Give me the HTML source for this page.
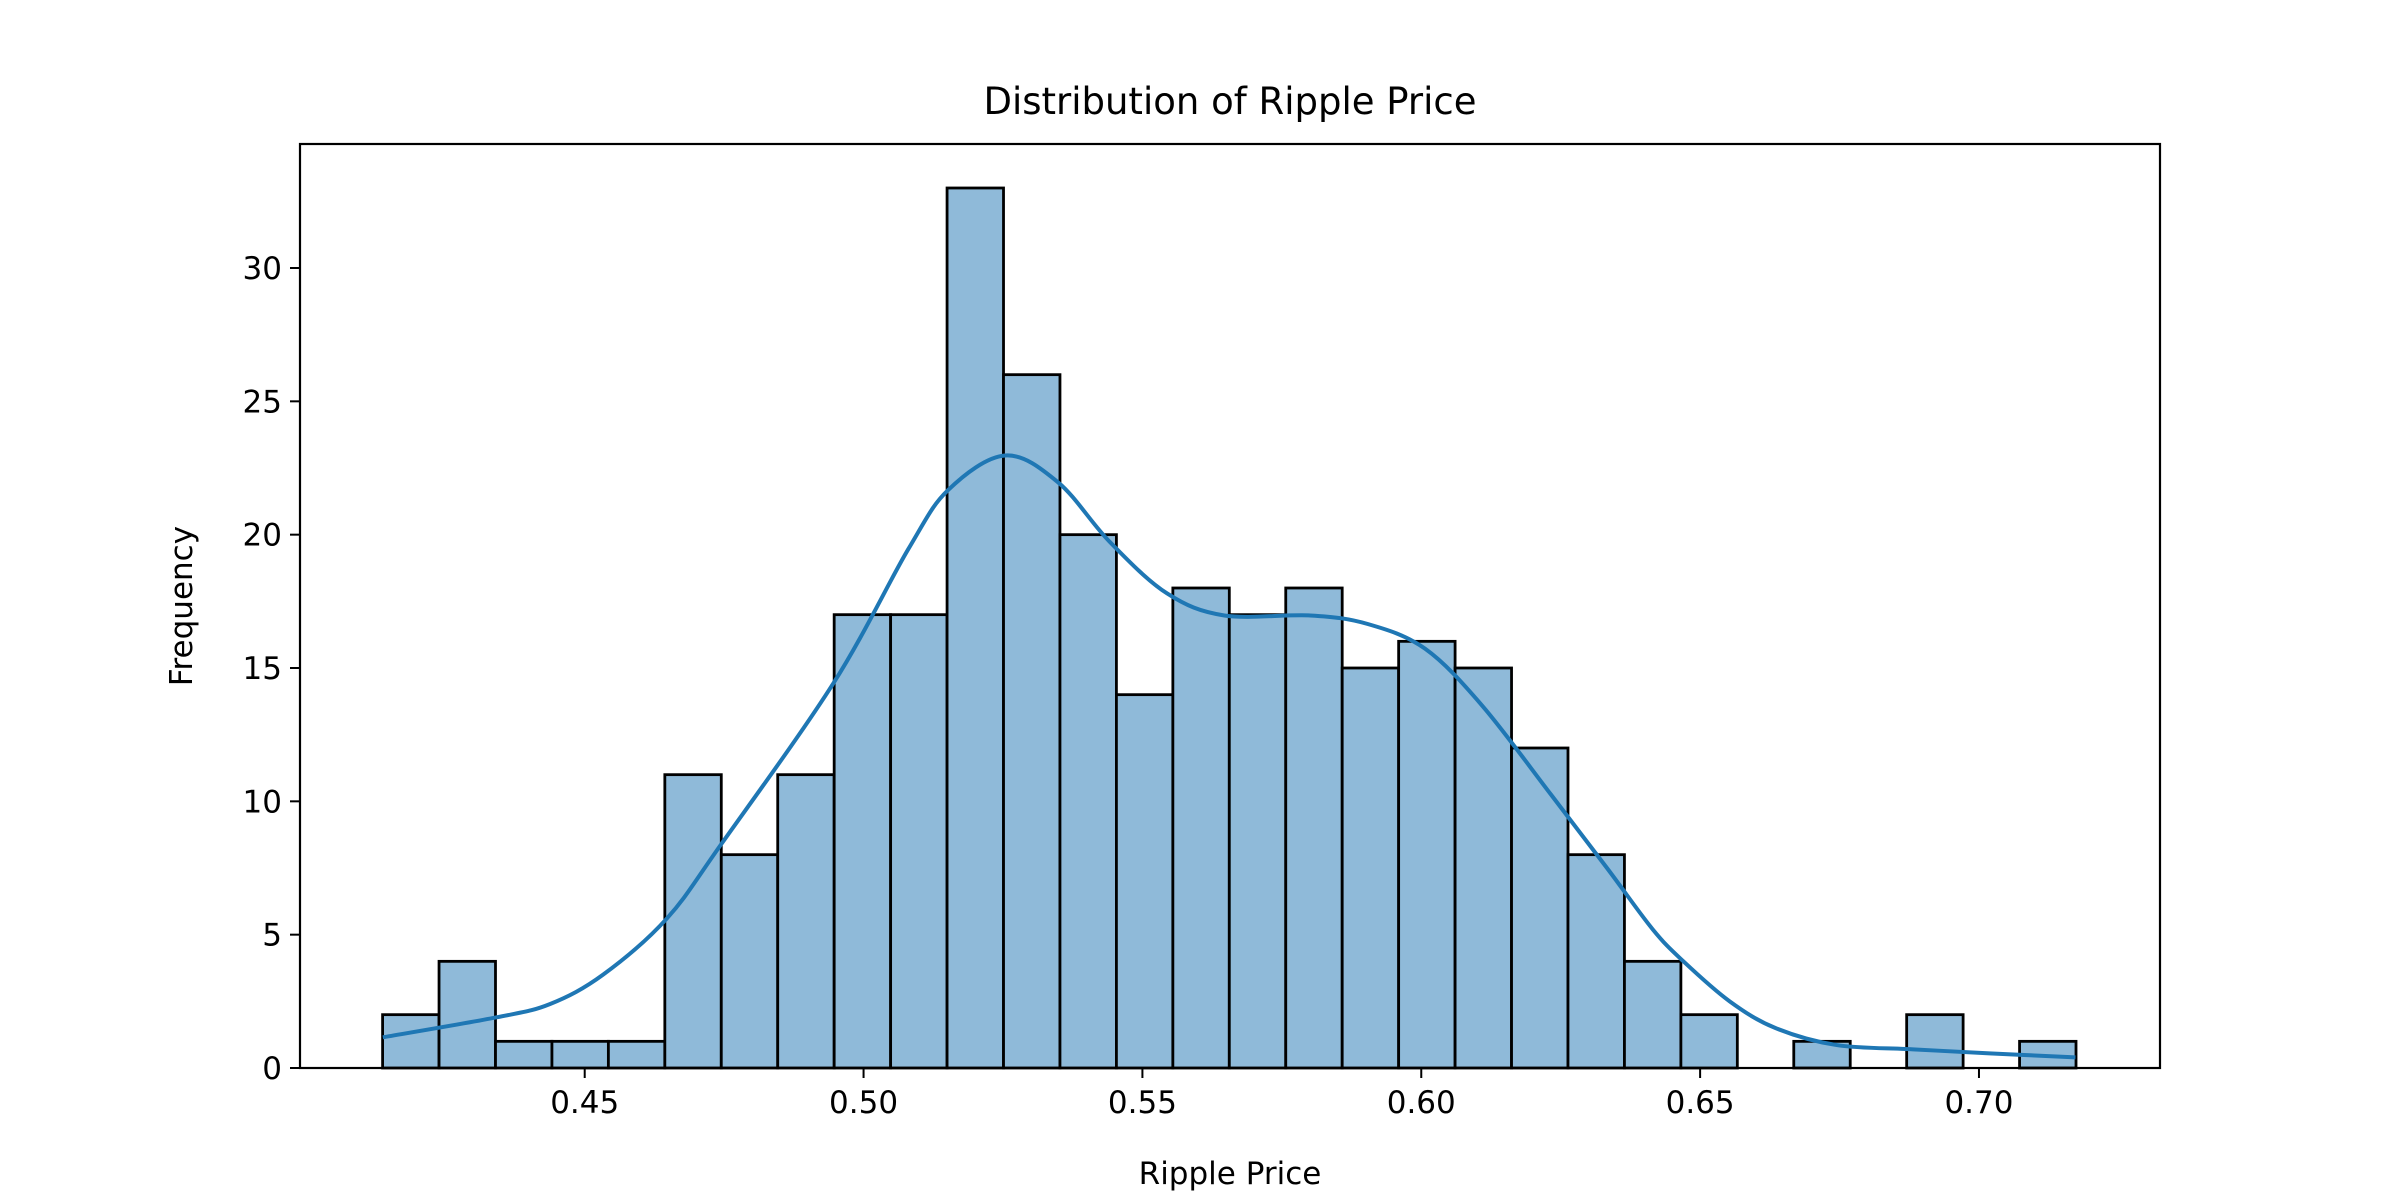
<!DOCTYPE html>
<html><head><meta charset="utf-8"><style>
html,body{margin:0;padding:0;background:#fff}
svg{display:block;font-family:"DejaVu Sans","Liberation Sans",sans-serif}
</style></head><body>
<svg id="chart" width="2400" height="1200" viewBox="0 0 2400 1200">
<text x="1230" y="114" font-size="37" text-anchor="middle">Distribution of Ripple Price</text>
<g id="bars"></g>
<path id="kde" fill="none" stroke="#1f77b4" stroke-width="4"/>
<rect x="300" y="144" width="1860" height="924" fill="none" stroke="#000" stroke-width="2.2"/>
<g id="xt"></g>
<g id="yt"></g>
<text x="1230" y="1184" font-size="31" text-anchor="middle">Ripple Price</text>
<text x="0" y="0" font-size="31" text-anchor="middle" transform="translate(192,606) rotate(-90)">Frequency</text>
</svg>
<script>
const counts=[2,4,1,1,1,11,8,11,17,17,33,26,20,14,18,17,18,15,16,15,12,8,4,2,0,1,0,2,0,1];
const binMin=0.41376, binMax=0.71740;
const kdeX=[0.4138,0.4342,0.4438,0.4533,0.4647,0.4745,0.4946,0.5080,0.5152,0.5254,0.5349,0.5441,0.5544,0.5647,0.5801,0.5904,0.6007,0.6110,0.6232,0.6333,0.6415,0.6470,0.6553,0.6635,0.6745,0.6882,0.7019,0.7173];
const kdeY=[1.15,1.9,2.4,3.5,5.6,8.4,14.43,19.45,21.68,22.97,21.96,19.74,17.8,16.97,16.97,16.65,15.72,13.57,10.27,7.5,5.2,4.0,2.5,1.5,0.86,0.7,0.55,0.4];
const xTicks=[0.45,0.50,0.55,0.60,0.65,0.70];
const yTicks=[0,5,10,15,20,25,30];
const X0=300,X1=2160,Y0=1068,Y1=144,xmin=0.39895,xmax=0.73246,ymax=34.65;
const sx=v=>X0+(v-xmin)/(xmax-xmin)*(X1-X0);
const sy=v=>Y0-v/ymax*(Y0-Y1);
const NS="http://www.w3.org/2000/svg";
const bars=document.getElementById('bars');
const bw=(binMax-binMin)/counts.length;
counts.forEach((c,i)=>{
  if(c===0)return;
  const r=document.createElementNS(NS,'rect');
  const a=sx(binMin+i*bw),b=sx(binMin+(i+1)*bw);
  r.setAttribute('x',a);r.setAttribute('y',sy(c));
  r.setAttribute('width',b-a);r.setAttribute('height',sy(0)-sy(c));
  r.setAttribute('fill','#8fbad9');r.setAttribute('stroke','#000');r.setAttribute('stroke-width','2.8');
  
  
  bars.appendChild(r);
});
const pts=kdeX.map((x,i)=>[sx(x),sy(kdeY[i])]);
let d='M'+pts[0][0]+','+pts[0][1];
for(let i=0;i<pts.length-1;i++){
  const p0=pts[Math.max(0,i-1)],p1=pts[i],p2=pts[i+1],p3=pts[Math.min(pts.length-1,i+2)];
  d+=' C'+(p1[0]+(p2[0]-p0[0])/6)+','+(p1[1]+(p2[1]-p0[1])/6)+' '+(p2[0]-(p3[0]-p1[0])/6)+','+(p2[1]-(p3[1]-p1[1])/6)+' '+p2[0]+','+p2[1];
}
document.getElementById('kde').setAttribute('d',d);
const xt=document.getElementById('xt');
xTicks.forEach(t=>{
  const x=sx(t);
  const l=document.createElementNS(NS,'line');
  l.setAttribute('x1',x);l.setAttribute('x2',x);l.setAttribute('y1',Y0);l.setAttribute('y2',Y0+10);l.setAttribute('stroke','#000');l.setAttribute('stroke-width','2');
  
  
  xt.appendChild(l);
  const s=document.createElementNS(NS,'text');
  s.setAttribute('x',x);s.setAttribute('y',Y0+45);s.setAttribute('font-size','31');s.setAttribute('text-anchor','middle');
  s.textContent=t.toFixed(2);
  
  
  xt.appendChild(s);
});
const yt=document.getElementById('yt');
yTicks.forEach(t=>{
  const y=sy(t);
  const l=document.createElementNS(NS,'line');
  l.setAttribute('x1',X0-10);l.setAttribute('x2',X0);l.setAttribute('y1',y);l.setAttribute('y2',y);l.setAttribute('stroke','#000');l.setAttribute('stroke-width','2');
  
  
  yt.appendChild(l);
  const s=document.createElementNS(NS,'text');
  s.setAttribute('x',X0-18);s.setAttribute('y',y+11);s.setAttribute('font-size','31');s.setAttribute('text-anchor','end');
  s.textContent=t;
  
  
  yt.appendChild(s);
});
</script>
</body></html>
